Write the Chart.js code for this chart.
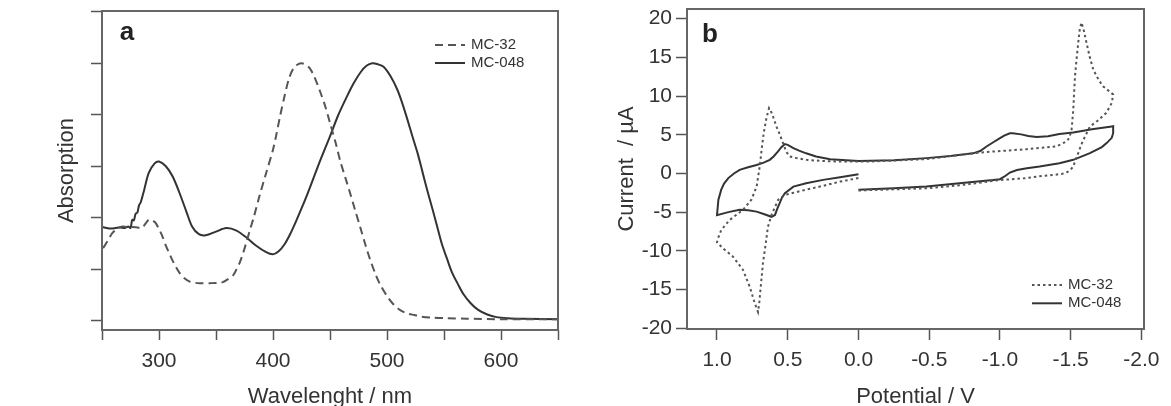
<!DOCTYPE html>
<html>
<head>
<meta charset="utf-8">
<title>MC-32 / MC-048: absorption and cyclic voltammetry</title>
<script src="https://cdn.jsdelivr.net/npm/chart.js@4.4.1/dist/chart.umd.min.js"></script>
<style>
  html, body { margin: 0; padding: 0; background: #fff; overflow: hidden; }
  #wrap { position: relative; width: 1171px; height: 406px; overflow: hidden; }
  canvas { position: absolute; top: 0; }
  #absChart { left: 0; }
  #cvChart { left: 580px; }
</style>
</head>
<body>
<div id="wrap">
  <canvas id="absChart" width="580" height="420"></canvas>
  <canvas id="cvChart" width="591" height="420"></canvas>
</div>
<script>
// ---- panel a: absorption spectra ----
const wavelengthMC32 = [251, 255, 259, 264, 268, 272, 277, 281, 285, 288, 291, 294, 297, 300, 303, 306, 309, 313, 318, 322, 327, 332, 336, 345, 352, 356, 360, 365, 368, 371, 374, 377, 380, 383, 388, 394, 400, 403, 406, 410, 414, 418, 422, 425, 428, 432, 436, 441, 446, 450, 455, 459, 464, 468, 472, 477, 481, 485, 490, 494, 500, 506, 512, 518, 524, 530, 540, 553, 570, 600, 650];
const absorptionMC32 = [1.41, 1.55, 1.70, 1.80, 1.83, 1.82, 1.82, 1.81, 1.80, 1.88, 1.96, 1.95, 1.90, 1.78, 1.64, 1.46, 1.31, 1.12, 0.93, 0.83, 0.76, 0.735, 0.73, 0.73, 0.735, 0.75, 0.80, 0.88, 1.0, 1.14, 1.33, 1.55, 1.78, 2.0, 2.41, 2.87, 3.32, 3.62, 3.95, 4.35, 4.70, 4.90, 4.98, 5.0, 4.98, 4.91, 4.75, 4.47, 4.15, 3.84, 3.45, 3.10, 2.74, 2.45, 2.15, 1.78, 1.48, 1.20, 0.90, 0.70, 0.48, 0.31, 0.20, 0.14, 0.11, 0.08, 0.06, 0.05, 0.04, 0.03, 0.03];

const wavelengthMC048 = [250, 254, 258, 262, 266, 270, 273, 275, 276.5, 278, 279.5, 281, 282.5, 284, 287, 291, 296, 300, 306, 312, 318, 324, 329, 335, 341, 350, 359, 368, 377, 385, 394, 400, 405, 410, 415, 420, 425, 430, 435, 440, 445, 450, 457, 465, 471, 477, 482, 487, 492, 497, 503, 509, 513, 518, 522, 527, 531, 535, 540, 544, 548, 553, 557, 562, 567, 573, 580, 588, 596, 606, 620, 650];
const absorptionMC048 = [1.82, 1.80, 1.79, 1.80, 1.81, 1.80, 1.83, 1.80, 1.96, 1.95, 2.08, 2.10, 2.24, 2.30, 2.54, 2.87, 3.05, 3.09, 3.0, 2.80, 2.48, 2.12, 1.83, 1.68, 1.66, 1.73, 1.80, 1.75, 1.61, 1.46, 1.33, 1.29, 1.35, 1.48, 1.68, 1.92, 2.18, 2.45, 2.74, 3.03, 3.31, 3.58, 3.98, 4.36, 4.62, 4.83, 4.95, 5.0, 4.98, 4.93, 4.75, 4.49, 4.25, 3.90, 3.60, 3.24, 2.90, 2.56, 2.16, 1.83, 1.50, 1.18, 0.94, 0.72, 0.52, 0.35, 0.21, 0.12, 0.07, 0.05, 0.04, 0.03];

const wavelengthTicks = [250, 300, 350, 400, 450, 500, 550, 600, 650];
const absorptionTicks = [0, 1, 2, 3, 4, 5, 6];

// ---- panel b: cyclic voltammograms, points in scan order ----
const potentialMC32 = [0.0, -0.25, -0.5, -0.75, -1.0, -1.19, -1.28, -1.376, -1.44, -1.47, -1.50, -1.518, -1.535, -1.553, -1.57, -1.59, -1.636, -1.69, -1.75, -1.79, -1.80, -1.76, -1.73, -1.70, -1.66, -1.635, -1.612, -1.595, -1.577, -1.565, -1.553, -1.54, -1.53, -1.518, -1.506, -1.49, -1.47, -1.40, -1.19, -0.95, -0.81, -0.48, -0.08, 0.13, 0.25, 0.37, 0.44, 0.486, 0.51, 0.533, 0.56, 0.58, 0.604, 0.62, 0.632, 0.65, 0.67, 0.685, 0.698, 0.72, 0.757, 0.816, 0.91, 0.97, 0.993, 1.0, 0.958, 0.887, 0.816, 0.769, 0.733, 0.71, 0.70, 0.693, 0.675, 0.655, 0.64, 0.615, 0.567, 0.52, 0.46, 0.37, 0.25, 0.13, 0.0];
const currentMC32 = [-2.2, -2.05, -1.9, -1.45, -0.85, -0.6, -0.35, -0.2, -0.05, 0.1, 0.5, 0.9, 1.8, 2.63, 3.5, 4.35, 6.07, 6.8, 7.8, 9.1, 10.2, 10.8, 11.24, 12.0, 13.4, 15.0, 16.86, 18.3, 19.5, 18.8, 16.86, 14.5, 12.5, 8.2, 5.64, 4.6, 4.13, 3.5, 3.14, 2.83, 2.6, 1.85, 1.54, 1.54, 1.6, 1.76, 2.0, 2.19, 2.8, 3.92, 5.2, 6.07, 7.36, 8.1, 8.45, 7.2, 5.2, 3.0, 0.9, -1.7, -3.4, -4.7, -6.0, -7.3, -8.4, -8.9, -9.67, -10.75, -12.47, -14.63, -16.78, -17.9, -16.5, -15.06, -11.6, -9.0, -6.9, -5.36, -3.4, -2.77, -2.5, -2.1, -1.6, -1.05, -0.6];

const potentialMC048 = [0.0, -0.25, -0.48, -0.75, -0.95, -1.0, -1.04, -1.07, -1.12, -1.19, -1.28, -1.42, -1.518, -1.636, -1.72, -1.754, -1.79, -1.80, -1.80, -1.79, -1.65, -1.518, -1.42, -1.34, -1.26, -1.2, -1.15, -1.09, -1.07, -1.03, -1.0, -0.95, -0.905, -0.86, -0.81, -0.65, -0.48, -0.25, 0.0, 0.2, 0.3, 0.37, 0.42, 0.46, 0.5, 0.52, 0.545, 0.57, 0.6, 0.627, 0.67, 0.72, 0.78, 0.84, 0.88, 0.92, 0.95, 0.97, 0.99, 1.0, 0.92, 0.84, 0.78, 0.72, 0.66, 0.615, 0.59, 0.575, 0.557, 0.54, 0.52, 0.46, 0.37, 0.25, 0.13, 0.0];
const currentMC048 = [-2.1, -1.9, -1.7, -1.2, -0.85, -0.74, -0.3, 0.12, 0.45, 0.68, 0.9, 1.33, 1.76, 2.63, 3.4, 3.92, 4.6, 5.2, 6.1, 6.07, 5.7, 5.3, 5.1, 4.8, 4.7, 4.85, 5.05, 5.2, 5.2, 4.9, 4.56, 4.0, 3.48, 2.9, 2.6, 2.25, 1.98, 1.7, 1.6, 1.85, 2.2, 2.6, 2.95, 3.27, 3.7, 3.8, 3.4, 2.83, 2.2, 1.76, 1.4, 1.1, 0.8, 0.47, 0.0, -0.6, -1.3, -2.1, -3.4, -5.4, -5.0, -4.7, -4.75, -4.93, -5.3, -5.6, -5.36, -4.6, -3.84, -3.1, -2.55, -1.7, -1.26, -0.83, -0.48, -0.1];

const potentialTicks = [1.0, 0.5, 0.0, -0.5, -1.0, -1.5, -2.0];
const currentTicks = [-20, -15, -10, -5, 0, 5, 10, 15, 20];

const FONT = "'Liberation Sans', Arial, Helvetica, sans-serif";
Chart.defaults.font.family = FONT;
Chart.defaults.color = "#333";

const toPoints = (xs, ys) => xs.map((x, i) => ({ x: x, y: ys[i] }));
const fixTicks = (values) => (scale) => {
  scale.ticks = values.map((v) => ({ value: v }));
};
// fixed axis size, and no extra room reserved for the end labels
const fixSize = (key, size) => (scale) => {
  scale[key] = size;
  scale.paddingTop = 0;
  scale.paddingBottom = 0;
  scale.paddingLeft = 0;
  scale.paddingRight = 0;
};

// box around the plot area
const framePlugin = {
  id: "frame",
  afterDatasetsDraw(chart) {
    const { ctx, chartArea: a } = chart;
    ctx.save();
    ctx.strokeStyle = "#666";
    ctx.lineWidth = 2;
    ctx.strokeRect(a.left, a.top, a.right - a.left, a.bottom - a.top);
    ctx.restore();
  },
};

// bold panel letter
const panelTag = {
  id: "panelTag",
  afterDraw(chart, args, opts) {
    const ctx = chart.ctx;
    ctx.save();
    ctx.font = "bold 26px " + FONT;
    ctx.fillStyle = "#222";
    ctx.textAlign = "center";
    ctx.textBaseline = "middle";
    ctx.fillText(opts.text, opts.x, opts.y);
    ctx.restore();
  },
};

// small legend placed inside the plot
const miniLegend = {
  id: "miniLegend",
  afterDraw(chart, args, opts) {
    const ctx = chart.ctx;
    ctx.save();
    ctx.font = "15px " + FONT;
    ctx.textBaseline = "middle";
    chart.data.datasets.forEach((ds, i) => {
      const y = opts.y + i * opts.rowHeight;
      ctx.strokeStyle = ds.borderColor;
      ctx.lineWidth = ds.borderWidth;
      ctx.setLineDash(ds.borderDash || []);
      ctx.beginPath();
      ctx.moveTo(opts.x, y);
      ctx.lineTo(opts.x + opts.length, y);
      ctx.stroke();
      ctx.setLineDash([]);
      ctx.fillStyle = "#333";
      ctx.fillText(ds.label, opts.x + opts.length + 6, y);
    });
    ctx.restore();
  },
};

const tickGrid = (len) => ({
  drawOnChartArea: false,
  drawTicks: true,
  tickLength: len,
  color: "#555",
  tickWidth: 1.5,
});

// Panel a
new Chart(document.getElementById("absChart"), {
  type: "scatter",
  data: {
    datasets: [
      {
        label: "MC-32",
        data: toPoints(wavelengthMC32, absorptionMC32),
        showLine: true,
        borderColor: "#555",
        borderWidth: 2,
        borderDash: [8, 5],
        pointRadius: 0,
        tension: 0.3,
      },
      {
        label: "MC-048",
        data: toPoints(wavelengthMC048, absorptionMC048),
        showLine: true,
        borderColor: "#333",
        borderWidth: 2,
        pointRadius: 0,
        tension: 0.3,
      },
    ],
  },
  options: {
    responsive: false,
    animation: false,
    layout: { autoPadding: false, padding: { top: 11, right: 22, left: 0, bottom: 0 } },
    plugins: {
      legend: { display: false },
      tooltip: { enabled: false },
      panelTag: { text: "a", x: 127, y: 33 },
      miniLegend: { x: 435, y: 45, length: 30, rowHeight: 18 },
    },
    scales: {
      x: {
        type: "linear",
        min: 250,
        max: 650,
        afterBuildTicks: fixTicks(wavelengthTicks),
        afterFit: fixSize("height", 90),
        ticks: {
          callback: (v) => (v % 100 === 0 ? String(v) : ""),
          font: { size: 21 },
          padding: 9,
          maxRotation: 0,
          autoSkip: false,
        },
        grid: tickGrid(10),
        border: { display: false },
        title: { display: true, text: "Wavelenght / nm", font: { size: 22 }, padding: { bottom: 10 } },
      },
      y: {
        type: "linear",
        min: -0.18,
        max: 6.014,
        afterBuildTicks: fixTicks(absorptionTicks),
        afterFit: fixSize("width", 102),
        ticks: { display: false },
        grid: tickGrid(11),
        border: { display: false },
        title: { display: true, text: "Absorption", font: { size: 22 }, padding: { top: 54 } },
      },
    },
  },
  plugins: [framePlugin, panelTag, miniLegend],
});

// Panel b
new Chart(document.getElementById("cvChart"), {
  type: "scatter",
  data: {
    datasets: [
      {
        label: "MC-32",
        data: toPoints(potentialMC32, currentMC32),
        showLine: true,
        borderColor: "#555",
        borderWidth: 2,
        borderDash: [2.5, 3],
        pointRadius: 0,
        tension: 0,
      },
      {
        label: "MC-048",
        data: toPoints(potentialMC048, currentMC048),
        showLine: true,
        borderColor: "#333",
        borderWidth: 2,
        pointRadius: 0,
        tension: 0,
      },
    ],
  },
  options: {
    responsive: false,
    animation: false,
    layout: { autoPadding: false, padding: { top: 9, right: 27, left: 0, bottom: 0 } },
    plugins: {
      legend: { display: false },
      tooltip: { enabled: false },
      panelTag: { text: "b", x: 130, y: 35 },
      miniLegend: { x: 452, y: 285, length: 30, rowHeight: 18.3 },
    },
    scales: {
      x: {
        type: "linear",
        reverse: true,
        min: -2.018,
        max: 1.212,
        afterBuildTicks: fixTicks(potentialTicks),
        afterFit: fixSize("height", 91),
        ticks: {
          callback: (v) => v.toFixed(1),
          font: { size: 21 },
          padding: 8,
          maxRotation: 0,
          autoSkip: false,
        },
        grid: tickGrid(11),
        border: { display: false },
        title: { display: true, text: "Potential / V", font: { size: 22 }, padding: { bottom: 10 } },
      },
      y: {
        type: "linear",
        min: -20.1,
        max: 21.25,
        afterBuildTicks: fixTicks(currentTicks),
        afterFit: fixSize("width", 107),
        ticks: { font: { size: 21 }, padding: 4 },
        grid: tickGrid(11),
        border: { display: false },
        title: { display: true, text: "Current  / µA", font: { size: 22 }, padding: { top: 34 } },
      },
    },
  },
  plugins: [framePlugin, panelTag, miniLegend],
});
</script>
</body>
</html>
